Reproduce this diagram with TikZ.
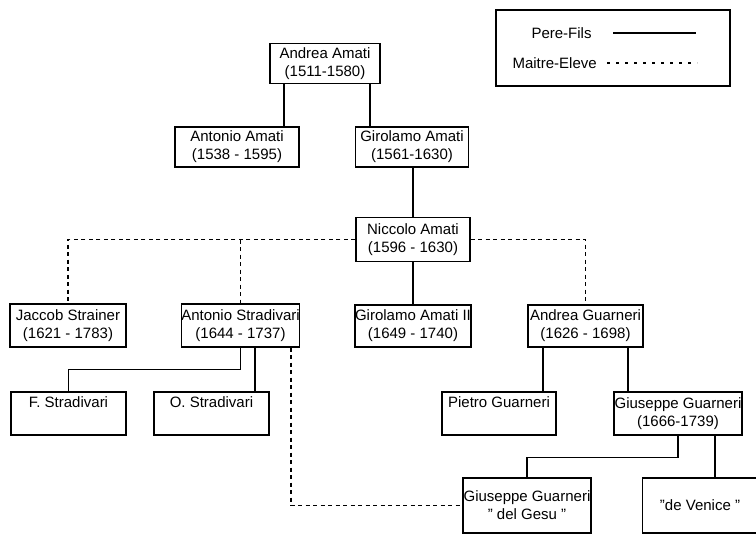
\documentclass[tikz,border=0pt]{standalone}
\usepackage{fontspec}
\setmainfont{Liberation Sans}
\tikzstyle{luthier} = [
    draw,
    line width=1.3pt,
    align=center,
    inner sep=0pt,
    font=\fontsize{15}{18}\selectfont,
    minimum width=115pt,
    minimum height=43pt]
\tikzstyle{pere} = [line width=1.2pt]
\tikzstyle{maitre} = [line width=1.2pt, dash pattern=on 4pt off 3.5pt]
\def\vide{\\ \strut}

\begin{document}
\begin{tikzpicture}[x=1pt, y=-1pt]
        \useasboundingbox (0,0) rectangle (756,535);
        \clip (0,0) rectangle (756,535);

        % legende
        \node[draw, line width=1.3pt, minimum width=234pt, minimum height=76pt] (legende) at (613,48) {};
        \node[anchor=west, font=\fontsize{15}{18}\selectfont] (pf) at (528,33) {Pere-Fils};
        \node[anchor=west, font=\fontsize{15}{18}\selectfont] (me) at (509,63) {Maitre-Eleve};
        \draw[pere] ([xshift=18pt]pf.east) -- ++(83,0);
        \draw[line width=1.2pt, dash pattern=on 3pt off 6pt] ([xshift=7pt]me.east) -- ++(90,0);

        % Amati
        \node[luthier, minimum width=110pt, minimum height=40pt] (AndreaA) at (325,63.5) {Andrea Amati\\(1511-1580)};
        \node[luthier, minimum width=124pt, minimum height=40pt] (AntonioA) at (237,147) {Antonio Amati\\(1538 - 1595)};
        \node[luthier, minimum width=113pt, minimum height=40pt] (GirolamoA) at (412,147) {Girolamo Amati\\(1561-1630)};
        \node[luthier, minimum width=114pt, minimum height=44pt] (Niccolo) at (413,239.5) {Niccolo Amati\\(1596 - 1630)};

        % eleves
        \node[luthier, minimum width=116pt] (Jaccob) at (68,325.5) {Jaccob Strainer\\(1621 - 1783)};
        \node[luthier] (StradA) at (240.5,325.5) {Antonio Stradivari\\(1644 - 1737)};
        \node[luthier, minimum width=114pt, minimum height=42pt] (GirolamoII) at (413,326) {Girolamo Amati II\\(1649 - 1740)};
        \node[luthier, minimum height=42pt] (AndreaG) at (585.5,326) {Andrea Guarneri\\(1626 - 1698)};

        \node[luthier] (FStrad) at (68.5,413.5) {F. Stradivari\vide};
        \node[luthier] (OStrad) at (211.5,413.5) {O. Stradivari\vide};
        \node[luthier, minimum width=114pt] (Pietro) at (499,413.5) {Pietro Guarneri\vide};
        \node[luthier, minimum width=128pt] (GiuseppeG) at (678,413.5) {Giuseppe Guarneri\\(1666-1739)};

        \node[luthier, minimum width=128pt, minimum height=55pt] (delGesu) at (527,505.5) {Giuseppe Guarneri\\\symbol{"22} del Gesu \symbol{"22}};
        \node[luthier, minimum height=55pt] (deVenice) at (700,505.5) {\symbol{"22}de Venice \symbol{"22}};

        % pere - fils
        \draw[pere] ([xshift=-41pt]AndreaA.south) -- ([xshift=-41pt]AndreaA.south |- AntonioA.north);
        \draw[pere] ([xshift=45pt]AndreaA.south) -- ([xshift=45pt]AndreaA.south |- GirolamoA.north);
        \draw[pere] (GirolamoA.south -| Niccolo.north) -- (Niccolo.north);
        \draw[pere] (Niccolo.south) -- (GirolamoII.north);
        \draw[pere] (StradA.south) -- ++(0,22) -| (FStrad.north);
        \draw[pere] ([xshift=14.5pt]StradA.south) -- ([xshift=14.5pt]StradA.south |- OStrad.north);
        \draw[pere] ([xshift=-42.5pt]AndreaG.south) -- ([xshift=-42.5pt]AndreaG.south |- Pietro.north);
        \draw[pere] ([xshift=42.5pt]AndreaG.south) -- ([xshift=42.5pt]AndreaG.south |- GiuseppeG.north);
        \draw[pere] (GiuseppeG.south) -- ++(0,22) -| (delGesu.north);
        \draw[pere] ([xshift=37pt]GiuseppeG.south) -- ([xshift=37pt]GiuseppeG.south |- deVenice.north);

        % maitre - eleve
        \draw[maitre] (Niccolo.west) -| (Jaccob.north);
        \draw[maitre] (StradA.north |- Niccolo.west) -- (StradA.north);
        \draw[maitre] (Niccolo.east) -| (AndreaG.north);
        \draw[maitre] ([xshift=50.5pt]StradA.south) |- (delGesu.west);
    \end{tikzpicture}
\end{document}
